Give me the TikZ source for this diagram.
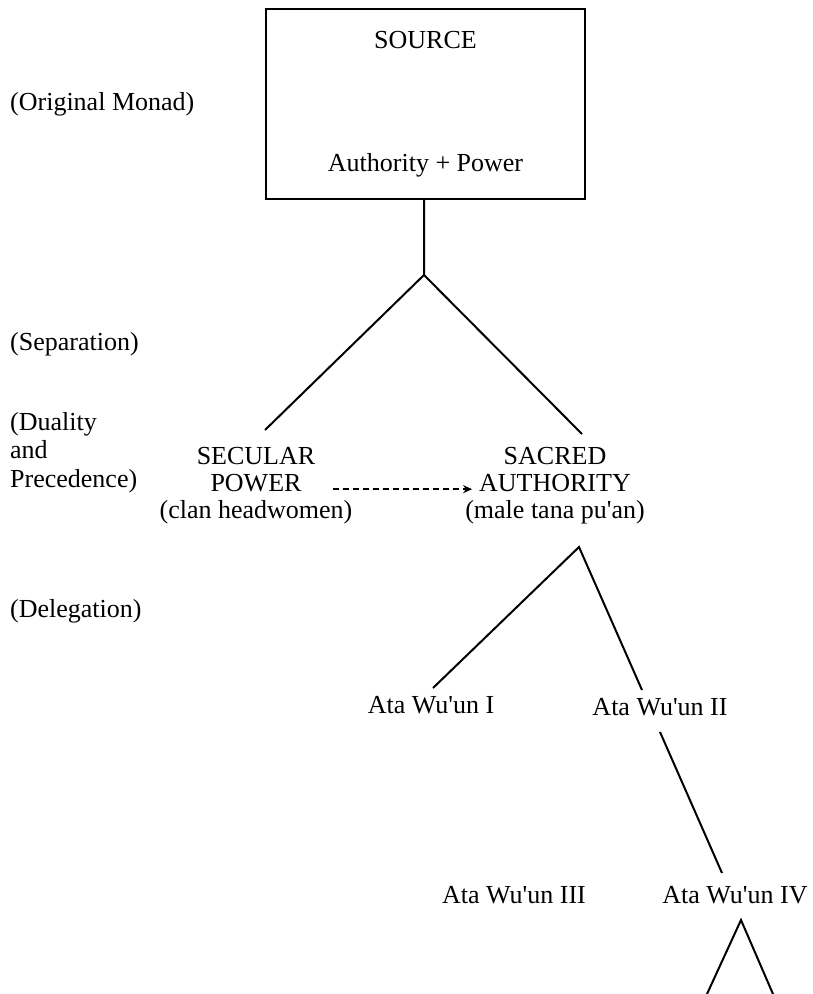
\documentclass[tikz,border=0pt]{standalone}
\usepackage{fontspec}
\setmainfont{Liberation Serif}
\usetikzlibrary{arrows.meta}

\tikzset{
  lbl/.style={font=\fontsize{26}{27}\selectfont, inner sep=0pt, align=center},
  side/.style={lbl, anchor=base west, align=left},
  branch/.style={line width=2pt},
  dasharrow/.style={line width=1.6pt, dash pattern=on 6pt off 4pt, -{Stealth[length=9pt,width=8pt]}}
}

\begin{document}
\begin{tikzpicture}[x=1pt,y=-1pt]
\useasboundingbox (0,0) rectangle (812,994);
% the source box
\node[lbl,draw,line width=2pt,minimum width=319pt,minimum height=190pt] (S) at (425.5,104) {SOURCE\\[96pt]Authority + Power};

% stage labels on the left
\node[side] (M) at (10,110) {(Original Monad)};
\node[side] (Sep) at (10,350) {(Separation)};
\node[side,font=\fontsize{26}{28.5}\selectfont] (D) at (10,487) {(Duality\\and\\Precedence)};
\node[side] (Del) at (10,617) {(Delegation)};

% power and authority (base = last line)
\node[lbl,anchor=base] (sec) at (256,518) {SECULAR\\POWER\\(clan headwomen)};
\node[lbl,anchor=base] (sac) at (555,518) {SACRED\\AUTHORITY\\(male tana pu\textquotesingle an)};

% delegates
\node[lbl,anchor=base] (a1) at (431,713) {Ata Wu\textquotesingle un I};
\node[lbl,anchor=base] (a2) at (660,715) {Ata Wu\textquotesingle un II};
\node[lbl,anchor=base] (a3) at (514,903) {Ata Wu\textquotesingle un III};
\node[lbl,anchor=base] (a4) at (735,903) {Ata Wu\textquotesingle un IV};

\coordinate (fork) at (424,275);
\coordinate (secTop) at (265,430);
\coordinate (sacTop) at (582,434);
\coordinate (sacBot) at (579,547);
\coordinate (a1Top) at (433,688);
\coordinate (a2Top) at (642,690);
\coordinate (a2Bot) at (660,732);
\coordinate (a4Top) at (722,873);
\coordinate (a4Bot) at (741,920);
\coordinate (legL) at (707,994);
\coordinate (legR) at (773,994);

\draw[branch] (S.south -| fork) -- (fork) -- (secTop);
\draw[branch] (fork) -- (sacTop);
\draw[dasharrow] ([xshift=-20pt,yshift=-4pt]sec.east) -- ([xshift=7pt,yshift=-4pt]sac.west);
\draw[branch] (a1Top) -- (sacBot) -- (a2Top);
\draw[branch] (a2Bot) -- (a4Top);
\draw[branch] (legL) -- (a4Bot) -- (legR);

\end{tikzpicture}
\end{document}
